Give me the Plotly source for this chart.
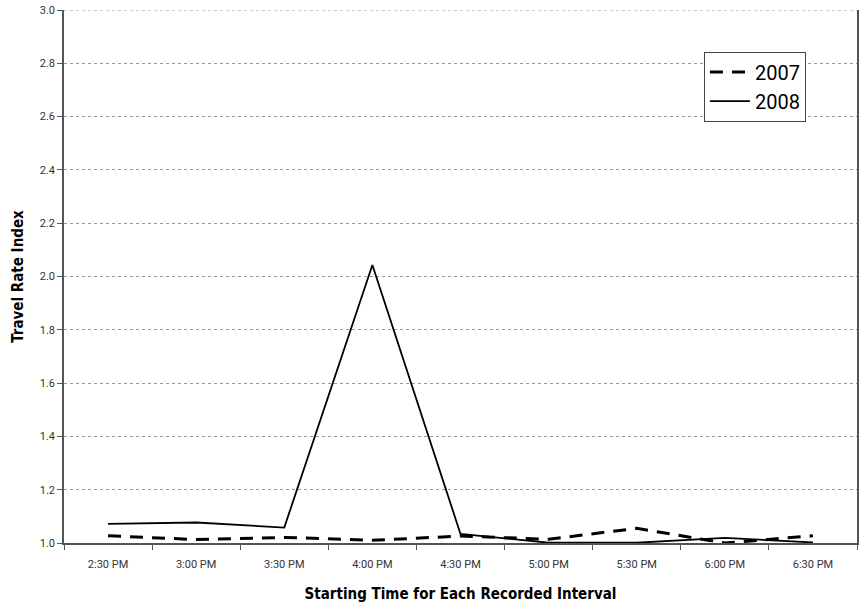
import plotly.graph_objects as go

categories = ["2:30 PM", "3:00 PM", "3:30 PM", "4:00 PM", "4:30 PM",
              "5:00 PM", "5:30 PM", "6:00 PM", "6:30 PM"]
values_2007 = [1.027, 1.013, 1.021, 1.010, 1.026, 1.014, 1.055, 1.000, 1.027]
values_2008 = [1.072, 1.077, 1.058, 2.043, 1.034, 1.001, 1.001, 1.019, 1.002]
y_ticks = [1.0, 1.2, 1.4, 1.6, 1.8, 2.0, 2.2, 2.4, 2.6, 2.8, 3.0]

fig = go.Figure()
fig.add_trace(go.Scatter(x=categories, y=values_2007, name="2007", mode="lines",
                         line=dict(color="black", width=3, dash="13px,9px")))
fig.add_trace(go.Scatter(x=categories, y=values_2008, name="2008", mode="lines",
                         line=dict(color="black", width=1.8)))

# top gridline at the upper end of the value axis
fig.add_shape(type="line", xref="paper", x0=0, x1=1, yref="y",
              y0=max(y_ticks), y1=max(y_ticks),
              line=dict(color="#999", width=1, dash="dot"), layer="below")

fig.update_layout(
    width=865, height=610,
    margin=dict(l=64, r=8, t=10, b=67, autoexpand=False),
    paper_bgcolor="white", plot_bgcolor="white",
    font=dict(family="Roboto", color="#222"),
    showlegend=True,
    legend=dict(x=0.807, y=0.922, xanchor="left", yanchor="top",
                bordercolor="#444", borderwidth=1, bgcolor="white",
                font=dict(size=20, family="Roboto", color="black"),
                tracegroupgap=0, itemwidth=40),
    xaxis=dict(
        type="category", tickmode="array", tickvals=categories,
        range=[-0.5, len(categories) - 0.5], automargin=False,
        ticks="outside", ticklen=5, tickcolor="#555", tickson="boundaries",
        ticklabelstandoff=10,
        showline=True, linecolor="#555", linewidth=1.5,
        showgrid=False, zeroline=False,
        tickfont=dict(size=11, family="Roboto", color="#333"),
        title=dict(text="<b>Starting Time for Each Recorded Interval</b>",
                   font=dict(size=15, family="DejaVu Sans Condensed", color="black"),
                   standoff=19),
    ),
    yaxis=dict(
        range=[1.0, 3.0], tickmode="array", tickvals=y_ticks,
        ticktext=[f"{v:.1f}" for v in y_ticks], automargin=False,
        ticklabeloverflow="allow",
        ticks="outside", ticklen=5, tickcolor="#555",
        showline=True, linecolor="#555", linewidth=1.5, mirror=True,
        showgrid=True, gridcolor="#999", griddash="dot", gridwidth=1,
        zeroline=False,
        tickfont=dict(size=11, family="Roboto", color="#333"),
        title=dict(text="<b>Travel Rate Index</b>",
                   font=dict(size=15, family="DejaVu Sans Condensed", color="black"),
                   standoff=13),
    ),
)

fig.write_html("out.html", config={"displayModeBar": False},
               post_script="document.body.style.margin='0';document.body.style.padding='0';")
